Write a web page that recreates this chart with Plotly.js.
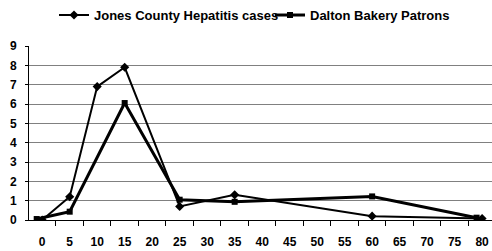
<!DOCTYPE html>
<html>
<head>
<meta charset="utf-8">
<script src="https://cdn.plot.ly/plotly-3.0.1.min.js"></script>
<style>html,body{margin:0;padding:0;background:#fff;}#chart{width:492px;height:251px;}</style>
</head>
<body>
<div id="chart"></div>
<script>
// Data
const jonesX = [0, 5, 10, 15, 25, 35, 60, 80];
const jonesY = [0.0, 1.2, 6.9, 7.9, 0.7, 1.3, 0.2, 0.08];
const daltonX = [-1, 5, 15, 25, 35, 60, 79];
const daltonY = [0.05, 0.43, 6.05, 1.05, 0.94, 1.22, 0.12];
const xTickVals = [0, 5, 10, 15, 20, 25, 30, 35, 40, 45, 50, 55, 60, 65, 70, 75, 80];
const yTickVals = [0, 1, 2, 3, 4, 5, 6, 7, 8, 9];
const seriesNames = ['Jones County Hepatitis cases', 'Dalton Bakery Patrons'];

const fam = 'Liberation Sans, Arial, sans-serif';

const traces = [
  {x: jonesX, y: jonesY, name: seriesNames[0], type: 'scatter', mode: 'lines+markers',
   line: {color: '#000', width: 2}, marker: {symbol: 'diamond', size: 7, color: '#000'}},
  {x: daltonX, y: daltonY, name: seriesNames[1], type: 'scatter', mode: 'lines+markers',
   line: {color: '#000', width: 3}, marker: {symbol: 'square', size: 6, color: '#000'}}
];

const layout = {
  width: 492, height: 251,
  margin: {l: 29, r: 0, t: 46, b: 31, pad: 0},
  paper_bgcolor: '#fff', plot_bgcolor: '#fff',
  font: {family: fam, size: 11, color: '#000'},
  showlegend: true,
  legend: {orientation: 'h', xref: 'container', x: 54 / 492, xanchor: 'left',
    yref: 'container', y: 0.94, yanchor: 'middle',
    font: {family: fam, size: 13, weight: 700, color: '#000'}, itemwidth: 30,
    bgcolor: 'rgba(0,0,0,0)', entrywidth: 171, entrywidthmode: 'pixels'},
  xaxis: {
    range: [-2.4, 81.8], tickvals: xTickVals, ticktext: xTickVals.map(String),
    ticks: '', showgrid: false, zeroline: false,
    showline: true, linecolor: '#000', linewidth: 1,
    tickfont: {family: fam, size: 12, weight: 700, color: '#000'},
    ticklabelstandoff: 11,
    minor: {tick0: -2.5, dtick: 5, ticks: 'outside', ticklen: 5, tickcolor: '#000', tickwidth: 1, showgrid: false}
  },
  yaxis: {
    range: [0, 9], tickvals: yTickVals, ticks: 'outside', ticklen: 3, tickcolor: '#000',
    showgrid: true, gridcolor: '#808080', gridwidth: 1, zeroline: false,
    showline: true, linecolor: '#000', linewidth: 1,
    tickfont: {family: fam, size: 12, weight: 700, color: '#000'},
    ticklabelstandoff: 6
  }
};

Plotly.newPlot('chart', traces, layout, {displayModeBar: false, staticPlot: true});
</script>
</body>
</html>
